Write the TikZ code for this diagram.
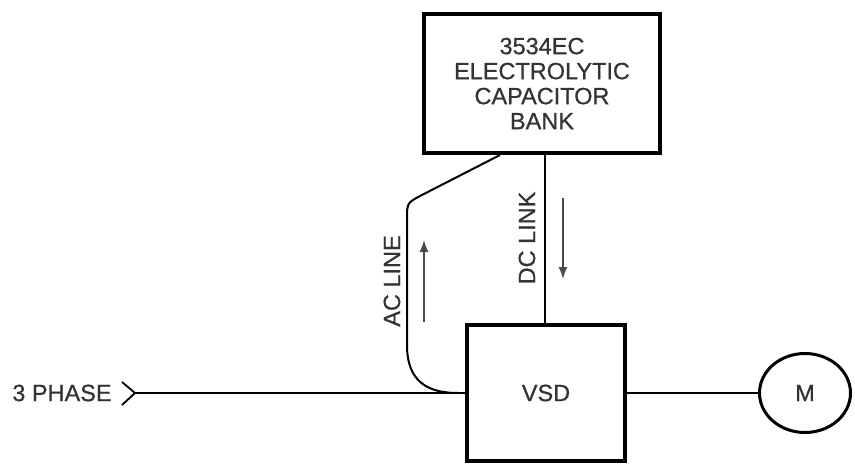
\documentclass[tikz,border=0pt]{standalone}
\usepackage{fontspec}
\setmainfont[FakeBold=0.7]{Liberation Sans}
\usetikzlibrary{shapes.geometric,arrows.meta}
\definecolor{txt}{HTML}{333333}
\definecolor{arr}{HTML}{4A4A4A}
\begin{document}
\begin{tikzpicture}[x=1pt,y=-1pt,
  lbl/.style={text=txt,font=\fontsize{23.5}{25}\selectfont,inner sep=0pt},
  blk/.style={draw=black,line width=4pt,lbl,align=center},
  wire/.style={draw=black,line width=2pt},
  flow/.style={draw=arr,line width=1.4pt,-{Latex[length=12pt,width=9pt]}}]
\useasboundingbox (0,0) rectangle (855,466);
\node[blk,minimum width=236pt,minimum height=139pt] (cap) at (542,83.5)
  {3534EC\\ELECTROLYTIC\\CAPACITOR\\BANK};
\node[blk,minimum width=158pt,minimum height=136pt] (vsd) at (546,393) {VSD};
\node[ellipse,draw=black,line width=3pt,lbl,minimum width=91pt,minimum height=79pt] (mot) at (805,393) {M};
\node[lbl,anchor=center] (ph) at (62,393) {3 PHASE};
\coordinate (chevT) at (122,382);
\coordinate (chevP) at (135,393);
\coordinate (chevB) at (122,405);
\coordinate (acs) at (500,155);
\coordinate (acj) at (458,393);
% 3 phase feed
\draw[wire,line width=1.8pt] (chevT) -- (chevP) -- (chevB);
\draw[wire] (chevP) -- (vsd.west);
% DC link
\draw[wire] (cap.south -| 545,0) -- (vsd.north -| 545,0);
% AC line
\draw[wire] (acs) -- (420,196) .. controls (407,203) .. (407,220) -- (407,345)
  .. controls (407,382) and (428,393) .. (acj);
% motor
\draw[wire] (vsd.east) -- (mot.west);
% arrows and labels
\coordinate (dca) at (563,198);
\coordinate (dcb) at (563,279);
\draw[flow] (dca) -- (dcb);
\coordinate (aca) at (424,322);
\coordinate (acb) at (424,240);
\draw[flow] (aca) -- (acb);
\node[lbl,rotate=90] (dcl) at (527,238) {DC LINK};
\node[lbl,rotate=90] (acl) at (392,281) {AC LINE};
\end{tikzpicture}
\end{document}
